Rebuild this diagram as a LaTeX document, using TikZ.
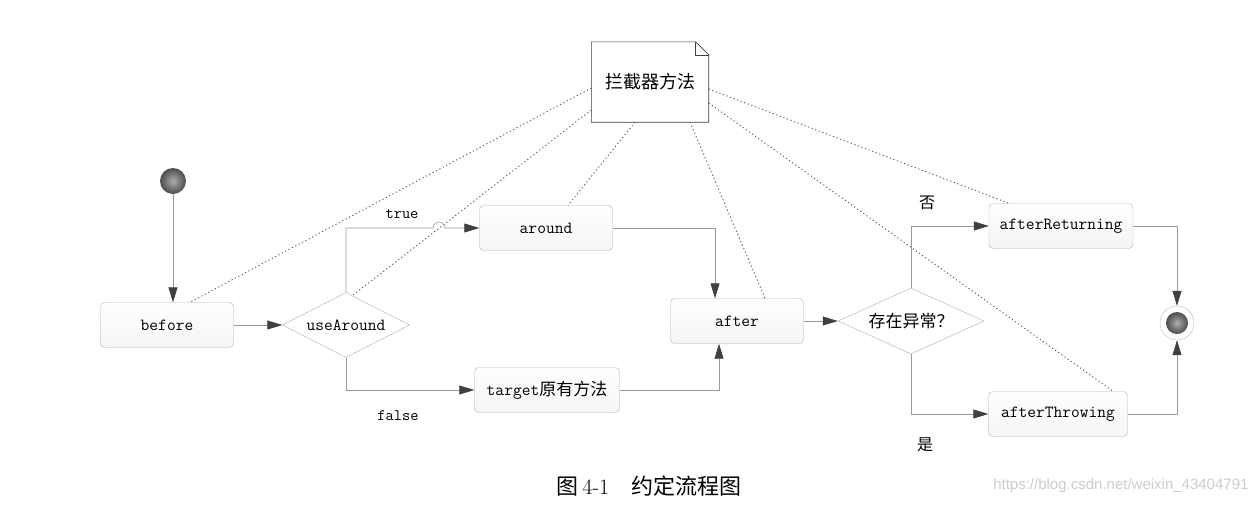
\documentclass[tikz,border=0pt]{standalone}
\usepackage{fontspec}
\newfontfamily\cjk{Noto Sans CJK SC}
\newfontfamily\wmfont{Liberation Sans}
\usetikzlibrary{shapes.geometric,arrows.meta,calc}

\begin{document}
\begin{tikzpicture}[x=1pt,y=-1pt,
    actbox/.style={draw=boxcolor,rounded corners=4pt,top color=white,bottom color=gray!8,
      minimum height=45pt,inner sep=0pt,font=\ttfamily\fontsize{17}{20}\selectfont},
    choice/.style={diamond,draw=gray!65,aspect=2,inner sep=1pt,font=\ttfamily\fontsize{17}{20}\selectfont},
    flow/.style={draw=linecolor,line width=0.6pt,-{Triangle[length=15pt,width=9pt,color=tipcolor,fill=tipcolor]}},
    link/.style={draw=black!65,line width=0.9pt,dash pattern=on 1.2pt off 2.6pt},
    ball/.style={circle,inner sep=0pt,shading=radial,inner color=gray!65,outer color=black!70},
    lbl/.style={font=\ttfamily\fontsize{16}{18}\selectfont},
    cjklbl/.style={font=\cjk\fontsize{16}{18}\selectfont}]

    \colorlet{boxcolor}{gray!60}
    \colorlet{linecolor}{gray!80}
    \colorlet{tipcolor}{black!75}

    \useasboundingbox (0,0) rectangle (1252,504);

    % note
    \node[fill=white,minimum width=117pt,minimum height=80pt,inner sep=0pt,
      font=\cjk\fontsize{18}{20}\selectfont] (note) at (650,82) {拦截器方法};
    \draw[black!75,line width=0.6pt] (note.south west) -- (note.north west)
      -- ([xshift=-13pt]note.north east) -- ([yshift=-13pt]note.north east)
      -- (note.south east) -- cycle;
    \draw[black!75,line width=0.6pt] ([xshift=-13pt]note.north east) |- ([yshift=-13pt]note.north east);

    % start / end
    \node[ball,minimum size=26pt] (start) at (173,181) {};
    \node[circle,draw=gray!55,minimum size=34pt,inner sep=0pt] (end) at (1177,323) {};
    \node[ball,minimum size=22pt] (endball) at (end) {};

    % activities
    \node[actbox,minimum width=133pt] (before) at (167,325) {before};
    \node[choice,minimum width=127pt,minimum height=65pt] (ua) at (346,325) {useAround};
    \node[actbox,minimum width=133pt] (around) at (546,228) {around};
    \node[actbox,minimum width=145pt] (target) at (547,390) {target{\cjk 原有方法}};
    \node[actbox,minimum width=133pt] (after) at (737,321) {after};
    \node[choice,minimum width=146pt,minimum height=66pt,font=\cjk\fontsize{17}{20}\selectfont] (exc) at (911,321) {存在异常？};
    \node[actbox,minimum width=144pt] (ret) at (1061,226) {afterReturning};
    \node[actbox,minimum width=139pt] (thr) at (1058,414) {afterThrowing};

    % dotted links to the note
    \draw[link] ([yshift=-6pt]note.west) -- ([xshift=23pt]before.north);
    \draw[link] ([yshift=-28pt]note.west) -- ($(ua.north)!0.1!(ua.east)$);
    \draw[link] ([xshift=-15pt]note.south) -- ([xshift=22pt]around.north);
    \draw[link] ([xshift=40pt]note.south) -- ([xshift=28pt]after.north);
    \draw[link] ([yshift=-7pt]note.east) -- ([xshift=-52pt]ret.north);
    \draw[link] ([yshift=-21pt]note.east) -- ([xshift=55pt]thr.north);

    % flow
    \coordinate (hop) at (433,228);
    \draw[flow] (start) -- (start |- before.north);
    \draw[flow] (before) -- (ua);
    \draw[flow] (ua.north) |- (hop) arc[start angle=180,end angle=0,radius=6pt] -- (around.west);
    \draw[flow] (ua.south) |- (target.west);
    \draw[flow] (around.east) -| ([xshift=-22pt]after.north);
    \draw[flow] (target.east) -| ([xshift=-18pt]after.south);
    \draw[flow] (after) -- (exc);
    \draw[flow] (exc.north) |- (ret.west);
    \draw[flow] (exc.south) |- (thr.west);
    \draw[flow] (ret.east) -| (end.north);
    \draw[flow] (thr.east) -| (end.south);

    % branch labels
    \node[lbl] (ltrue) at (402,214) {true};
    \node[lbl] (lfalse) at (398,416) {false};
    \node[cjklbl] (lno) at (927,203) {否};
    \node[cjklbl] (lyes) at (925,445) {是};

    % caption and mark
    \node[font=\fontsize{22}{24}\selectfont] (cap) at (649,486) {{\cjk 图}\,4-1\quad{\cjk 约定流程图}};
    \node[anchor=east,text=gray!40,font=\wmfont\fontsize{15}{18}\selectfont] (mark) at (1252,486)
      {https://blog.csdn.net/weixin\_43404791};

\end{tikzpicture}
\end{document}
